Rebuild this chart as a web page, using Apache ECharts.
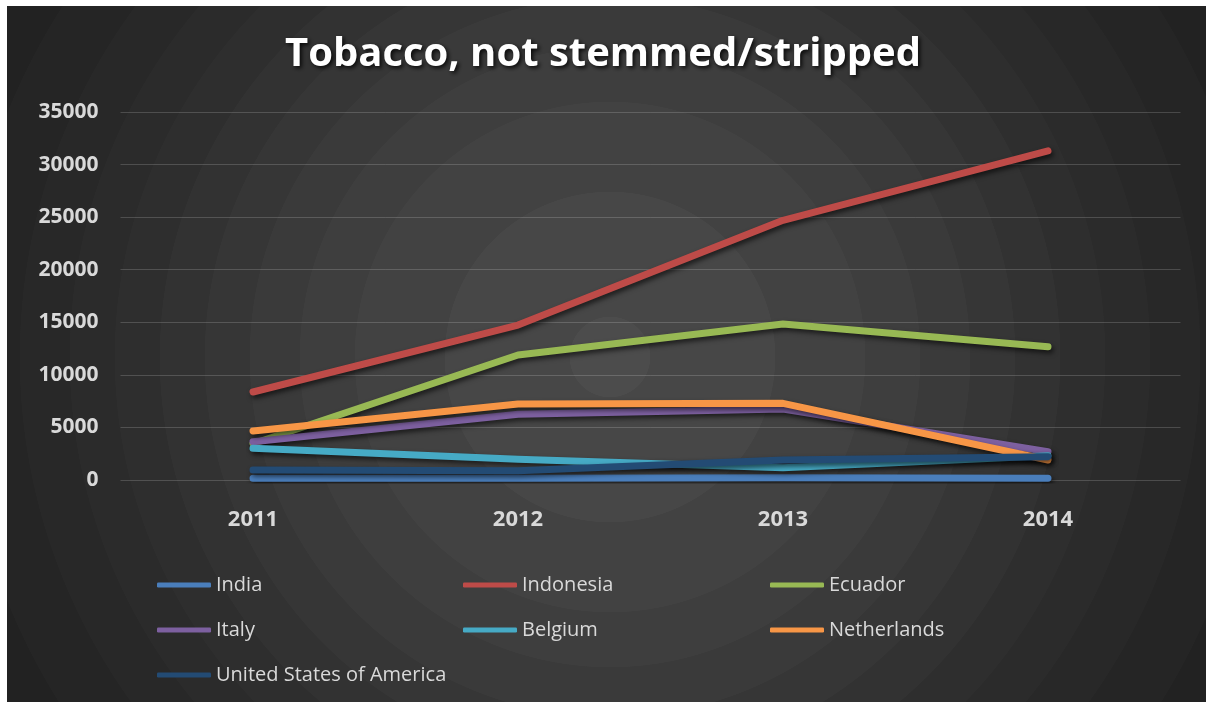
<!DOCTYPE html>
<html>
<head>
<meta charset="utf-8">
<script src="https://cdn.jsdelivr.net/npm/echarts@6/dist/echarts.min.js"></script>
<style>
  html, body { margin: 0; padding: 0; background: #ffffff; }
  #chart { width: 1206px; height: 702px; }
</style>
</head>
<body>
<div id="chart"></div>
<script>
// Import volumes of unprocessed tobacco by origin, 2011-2014
const years = ['2011', '2012', '2013', '2014'];
const yTicks = [0, 5000, 10000, 15000, 20000, 25000, 30000, 35000];

const india = [160, 160, 220, 160];
const indonesia = [8370, 14740, 24700, 31300];
const ecuador = [3450, 11890, 14840, 12680];
const italy = [3640, 6250, 6750, 2690];
const belgium = [3010, 1970, 1170, 2300];
const netherlands = [4660, 7230, 7290, 1900];
const usa = [950, 890, 1900, 2220];

const seriesNames = ['India', 'Indonesia', 'Ecuador', 'Italy', 'Belgium', 'Netherlands', 'United States of America'];
const seriesValues = [india, indonesia, ecuador, italy, belgium, netherlands, usa];
const seriesColors = ['#4A7EBB', '#BE4B48', '#98B954', '#7D60A0', '#46AAC5', '#F79646', '#234B74'];

// Banded radial backdrop: [outer radius, fill]
const rings = [
  [40, '#4c4c4c'], [165, '#474747'], [255, '#424242'], [310, '#3e3e3e'],
  [360, '#3a3a3a'], [405, '#363636'], [450, '#323232'], [495, '#2e2e2e'],
  [540, '#2b2b2b'], [590, '#282828'], [650, '#252525'], [800, '#222222']
];
const cx = 610, cy = 357;
const R = rings[rings.length - 1][0];
const stops = [];
let prev = 0;
rings.forEach(([r, c]) => {
  stops.push({ offset: prev / R, color: c });
  stops.push({ offset: r / R, color: c });
  prev = r + 0.5;
});

const chart = echarts.init(document.getElementById('chart'), null, { renderer: 'canvas' });

const legendCommon = {
  orient: 'vertical',
  top: 575,
  padding: 0,
  icon: 'roundRect',
  itemWidth: 54,
  itemHeight: 5,
  itemGap: 25,
  textStyle: { color: '#d9d9d9', fontSize: 20, fontFamily: 'Open Sans', lineHeight: 20 },
  selectedMode: false
};

chart.setOption({
  backgroundColor: '#ffffff',
  animation: false,
  graphic: [{
    type: 'rect',
    z: -10,
    silent: true,
    shape: { x: 7, y: 6, width: 1199, height: 696 },
    style: {
      fill: { type: 'radial', x: cx, y: cy, r: R, global: true, colorStops: stops }
    }
  }],
  title: {
    text: 'Tobacco, not stemmed/stripped',
    left: 'center',
    top: 30,
    textStyle: {
      color: '#ffffff', fontSize: 40, fontWeight: 'bold', fontFamily: 'Open Sans',
      textShadowColor: 'rgba(0,0,0,0.85)', textShadowBlur: 4, textShadowOffsetX: 2, textShadowOffsetY: 2
    }
  },
  legend: [
    Object.assign({ left: 157, data: ['India', 'Italy', 'United States of America'] }, legendCommon),
    Object.assign({ left: 463, data: ['Indonesia', 'Belgium'] }, legendCommon),
    Object.assign({ left: 770, data: ['Ecuador', 'Netherlands'] }, legendCommon)
  ],
  grid: { left: 120.5, right: 25.5, top: 112, bottom: 222, containLabel: false },
  xAxis: {
    type: 'category',
    data: years,
    boundaryGap: true,
    axisLine: { show: false },
    axisTick: { show: false },
    axisLabel: { color: '#d9d9d9', fontSize: 22, fontWeight: 'bold', fontFamily: 'Open Sans', margin: 29 },
    splitLine: { show: false }
  },
  yAxis: {
    type: 'value',
    min: yTicks[0],
    max: yTicks[yTicks.length - 1],
    interval: yTicks[1] - yTicks[0],
    axisLine: { show: false },
    axisTick: { show: false },
    axisLabel: {
      color: '#d9d9d9', fontSize: 21, fontWeight: 'bold', fontFamily: 'Open Sans', margin: 22,
      formatter: (v) => String(v)
    },
    splitLine: { lineStyle: { color: 'rgba(255,255,255,0.17)', width: 1 } }
  },
  series: seriesNames.map((name, i) => ({
    name: name,
    type: 'line',
    data: seriesValues[i],
    symbol: 'none',
    smooth: false,
    clip: true,
    color: seriesColors[i],
    lineStyle: {
      color: seriesColors[i], width: 7, cap: 'round', join: 'round',
      shadowColor: 'rgba(0,0,0,0.6)', shadowBlur: 5, shadowOffsetX: 2, shadowOffsetY: 3
    },
    z: 2 + i
  }))
});
</script>
</body>
</html>
